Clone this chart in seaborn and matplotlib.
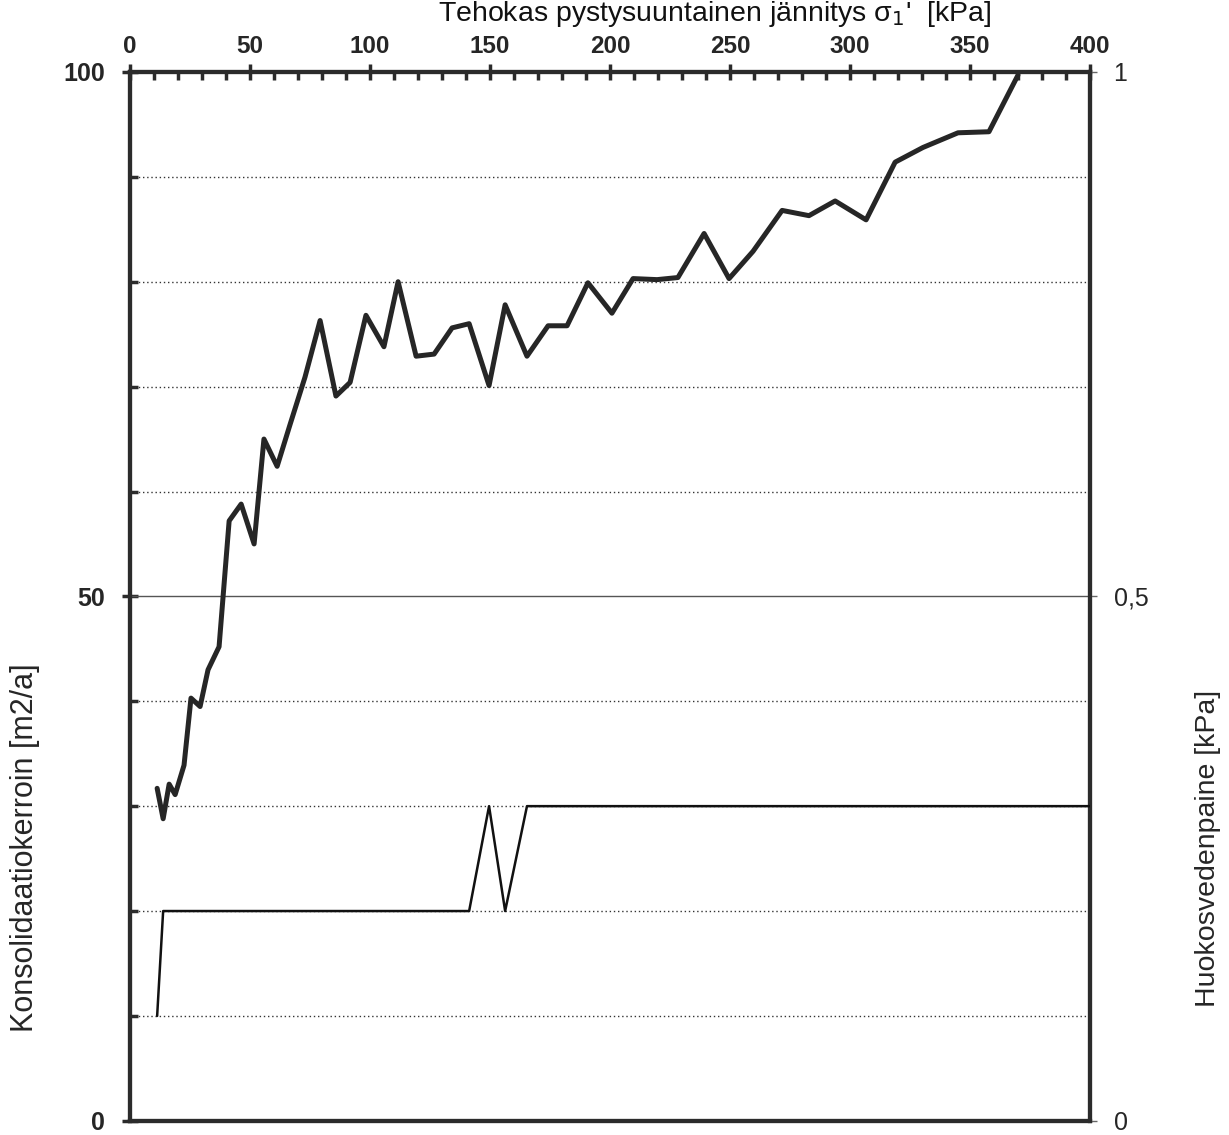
import matplotlib
matplotlib.use("Agg")
import matplotlib.pyplot as plt
import seaborn as sns
import pandas as pd
from matplotlib.ticker import MultipleLocator

sns.set_theme(style="white")
plt.rcParams["font.family"] = ["Liberation Sans", "DejaVu Sans"]

# Effective vertical stress [kPa] for the consolidation coefficient series
stress_cv = [11.3, 13.8, 16.3, 18.8, 22.5, 25.4, 29.2, 32.5, 37.1, 41.3, 46.3, 51.7,
             55.8, 61.3, 66.7, 72.9, 79.2, 85.8, 91.7, 98.3, 105.8, 111.7, 119.2,
             126.7, 134.2, 141.3, 149.6, 156.3, 165.4, 174.2, 182.1, 190.8, 200.8,
             209.6, 219.6, 228.3, 239.2, 249.6, 259.6, 271.7, 282.9, 293.8, 306.7,
             318.8, 330.4, 345.0, 357.9, 370.0]
# Consolidation coefficient [m2/a]
cv = [31.7, 28.8, 32.1, 31.1, 33.9, 40.3, 39.5, 43.0, 45.2, 57.2, 58.8, 55.0,
      65.0, 62.4, 66.4, 70.9, 76.3, 69.1, 70.4, 76.8, 73.8, 80.0, 72.9,
      73.1, 75.6, 76.0, 70.1, 77.8, 72.9, 75.8, 75.8, 79.9, 77.0,
      80.3, 80.2, 80.4, 84.6, 80.3, 82.9, 86.8, 86.3, 87.7, 85.9,
      91.4, 92.8, 94.2, 94.3, 99.7]

# Pore water pressure [kPa]
stress_u = [11.3, 13.8, 141.3, 149.6, 156.3, 165.4, 400.0]
pore_pressure = [0.1, 0.2, 0.2, 0.3, 0.2, 0.3, 0.3]

x_ticks = [0, 50, 100, 150, 200, 250, 300, 350, 400]
left_ticks = [0, 50, 100]
right_ticks = [0, 0.5, 1]
right_tick_labels = ["0", "0,5", "1"]

df_cv = pd.DataFrame({"stress": stress_cv, "cv": cv})
df_u = pd.DataFrame({"stress": stress_u, "u": pore_pressure})

fig = plt.figure(figsize=(12.29, 11.35), dpi=100)
ax = fig.add_axes([0.1058, 0.0125, 0.7811, 0.9241])
ax2 = ax.twinx()

spine_col = "#2b2b2b"

# horizontal guide lines
for level in range(10, 100, 10):
    if level == 50:
        ax.axhline(level, color="#555555", lw=1.0, ls="-", zorder=1)
    else:
        ax.axhline(level, color="#333333", lw=1.0, ls=(0, (1, 2)), zorder=1)

sns.lineplot(data=df_cv, x="stress", y="cv", ax=ax, color="#262626", lw=3.6,
             estimator=None, sort=False, zorder=3)
sns.lineplot(data=df_u, x="stress", y="u", ax=ax2, color="#111111", lw=1.8,
             estimator=None, sort=False, zorder=3)

ax.set_xlim(0, 400)
ax.set_ylim(0, 100)
ax2.set_ylim(0, 1)

# x axis on top
ax.xaxis.set_ticks_position("top")
ax.xaxis.set_label_position("top")
ax.set_xticks(x_ticks)
ax.set_xticklabels([str(t) for t in x_ticks], fontsize=17.5, fontweight="bold")
ax.xaxis.set_minor_locator(MultipleLocator(10))
ax.tick_params(axis="x", which="major", direction="inout", length=12, width=2.5,
               pad=4, color=spine_col, top=True, bottom=False)
ax.tick_params(axis="x", which="minor", direction="in", length=6, width=2.5,
               color=spine_col, top=True, bottom=False)
ax.set_xlabel("Tehokas pystysuuntainen jännitys σ$_1$'  [kPa]", fontsize=20.5,
              va="center", ha="center", color="#111111")
ax.xaxis.set_label_coords(0.609, 1.0555)

ax.set_yticks(left_ticks)
ax.set_yticklabels([str(t) for t in left_ticks], fontsize=18, fontweight="bold")
ax.yaxis.set_minor_locator(MultipleLocator(10))
ax.tick_params(axis="y", which="major", direction="inout", length=12, width=2.5,
               pad=12, color=spine_col, left=True, right=False)
ax.tick_params(axis="y", which="minor", direction="in", length=6, width=2.5,
               color=spine_col, left=True, right=False)
ax.set_ylabel("Konsolidaatiokerroin [m2/a]", fontsize=22, va="center")
ax.yaxis.set_label_coords(-0.109, 0.26)

ax2.set_yticks(right_ticks)
ax2.set_yticklabels(right_tick_labels, fontsize=18)
ax2.tick_params(axis="y", direction="out", length=5, width=1, pad=12,
                color="#666666", right=True)
ax2.set_ylabel("Huokosvedenpaine [kPa]", fontsize=20.5, va="center")
ax2.yaxis.set_label_coords(1.123, 0.26)
ax2.grid(False)
ax.grid(False)

for a in (ax, ax2):
    for s in a.spines.values():
        s.set_visible(True)
        s.set_color(spine_col)
        s.set_linewidth(3)

fig.savefig("out.png", dpi=100, facecolor="white")
